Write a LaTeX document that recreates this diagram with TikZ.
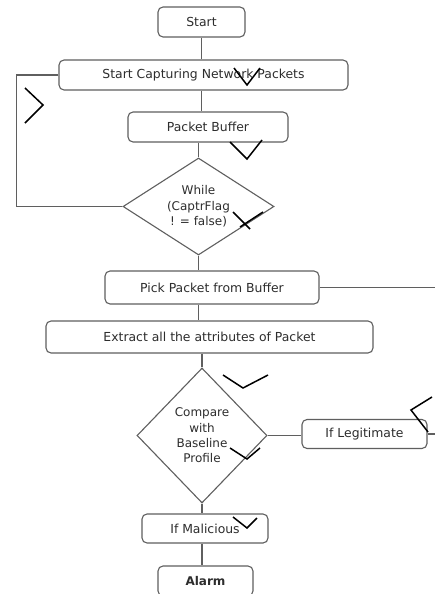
\documentclass[tikz,border=0pt]{standalone}
\usepackage{fontspec}
\setmainfont{DejaVu Sans}
\usepackage{tikz}
\usetikzlibrary{shapes.geometric, positioning, calc}

\definecolor{boxgray}{RGB}{95,95,95}
\definecolor{textgray}{RGB}{45,45,45}

\begin{document}
\begin{tikzpicture}[
    x=1pt, y=-1pt,
    % 角丸の処理ブロック
    block/.style={rectangle, rounded corners=5pt, draw=boxgray, line width=1.1pt, fill=white,
        inner sep=0pt, text=textgray, font=\fontsize{12.4}{15}\selectfont},
    % 判定ブロック（ひし形）
    decision/.style={diamond, draw=boxgray, line width=1.1pt, fill=white, inner sep=0pt,
        align=center, text=textgray, font=\fontsize{12}{15.3}\selectfont},
    % 接続線
    line/.style={draw=boxgray, line width=1.1pt},
    % 手書きの山形の印
    chev/.style={draw=black, line width=1.5pt}
]
\useasboundingbox (0,0) rectangle (435,594);
\fill[white] (0,0) rectangle (435,594);

% 1. 各要素（ノード）の配置
\node [block, minimum width=87pt, minimum height=30pt] (start) at (201.5,22) {Start};
\node [block, minimum width=289pt, minimum height=30pt] (capture) at (203.5,75) {Start Capturing Network Packets};
\node [block, minimum width=160pt, minimum height=30pt] (buffer) at (208,127) {Packet Buffer};
\node [decision, aspect=1.557, minimum width=151pt, minimum height=97pt] (while) at (198.5,206.5) {While\\(CaptrFlag\\! = false)};
\node [block, minimum width=214pt, minimum height=33pt] (pick) at (212,287.5) {Pick Packet from Buffer};
\node [block, minimum width=327pt, minimum height=32pt] (extract) at (209.5,337) {Extract all the attributes of Packet};
\node [decision, aspect=0.963, minimum width=130pt, minimum height=135pt] (compare) at (202,435.5) {Compare\\with\\Baseline\\Profile};
\node [block, minimum width=125pt, minimum height=29pt] (legit) at (364.5,434) {If Legitimate};
\node [block, minimum width=126pt, minimum height=29pt] (malicious) at (205,528.5) {If Malicious};
\node [block, minimum width=95pt, minimum height=30pt, font=\fontsize{12}{15}\selectfont\bfseries] (alarm) at (205.5,581) {Alarm};

% 画像の右端で切れる線の端点
\coordinate (pickend) at (436,287.5);
\coordinate (legitend) at (436,434);

% 2. 要素同士を線で結ぶ
\draw [line] (start.south) -- (start.south |- capture.north);
\draw [line] (start.south |- capture.south) -- (start.south |- buffer.north);
\draw [line] (while.north |- buffer.south) -- (while.north);
\draw [line] (while.south) -- (while.south |- pick.north);
\draw [line] (while.south |- pick.south) -- (while.south |- extract.north);
\draw [line] (compare.north |- extract.south) -- (compare.north);
\draw [line] (compare.east) -- (compare.east -| legit.west);
\draw [line] (compare.south) -- (compare.south |- malicious.north);
\draw [line] (compare.south |- malicious.south) -- (compare.south |- alarm.north);
\draw [line] (pick.east) -- (pickend);
\draw [line] (legit.east) -- (legitend);

% 3. ループを描く
\draw [line] (capture.west) -- ([xshift=-42pt]capture.west) |- (while.west);

% 4. 山形の印
\draw [chev] (234,68) -- (247,85) -- (260,68);
\draw [chev] (25,88) -- (43,105) -- (25,123);
\draw [chev] (230,142) -- (247,159) -- (262,140);
\draw [chev] (233,212) -- (250,229);
\draw [chev] (240,227) -- (263,212);
\draw [chev] (223,375) -- (243,388) -- (268,375);
\draw [chev] (230,448) -- (247,459) -- (260,448);
\draw [chev] (432,397) -- (411,410) -- (428,432);
\draw [chev] (233,517) -- (247,528) -- (257,518);

\end{tikzpicture}
\end{document}
